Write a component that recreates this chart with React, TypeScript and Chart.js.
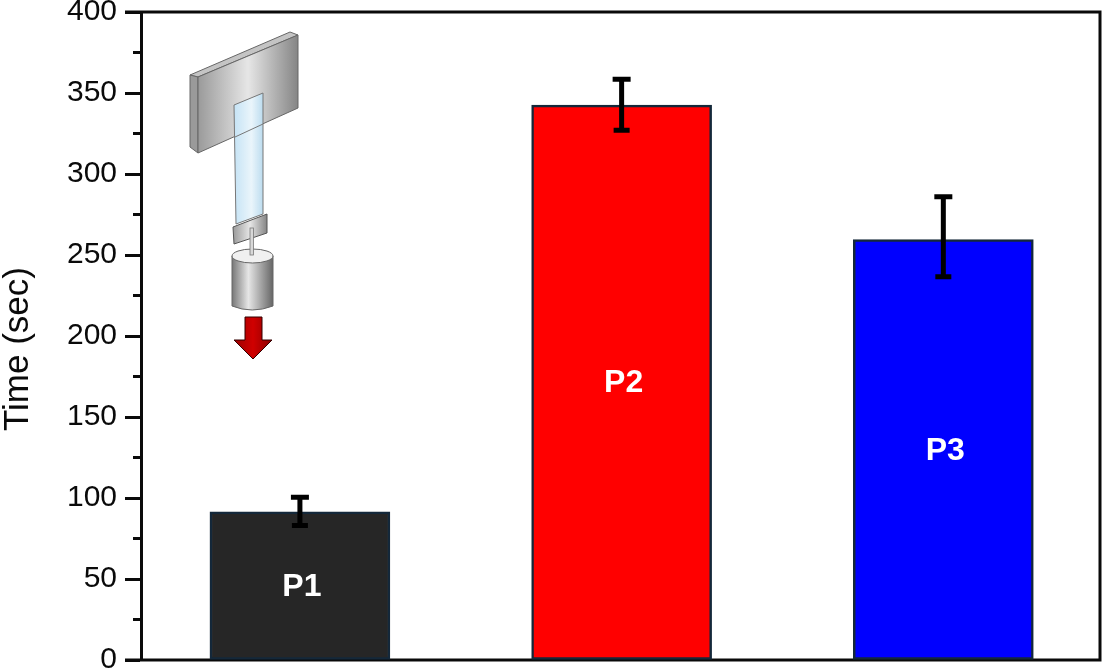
import React, { useEffect, useRef } from "react";
import { Chart, registerables } from "chart.js";

Chart.register(...registerables);

const categories = ["P1", "P2", "P3"];
const meanTime = [91.5, 342.5, 259.5];
const errorHigh = [100.5, 358.5, 286];
const errorLow = [83, 327, 236.5];
const barColors = ["#262626", "#ff0000", "#0000ff"];
const axisTitle = "Time (sec)";
const yMax = 400;
const yStep = 25;
const yLabelStep = 50;

const FONT = '"Liberation Sans", Arial, sans-serif';
const INK = "#0a0a0a";

const decorations = {
  id: "decorations",
  beforeDatasetsDraw(chart: any) {
    const { ctx, chartArea: a } = chart;
    ctx.save();
    ctx.strokeStyle = INK;
    ctx.lineWidth = 3;
    ctx.beginPath();
    ctx.moveTo(a.left - 16, a.top);
    ctx.lineTo(a.right, a.top);
    ctx.lineTo(a.right, a.bottom);
    ctx.lineTo(a.left - 16, a.bottom);
    ctx.stroke();
    // minor ticks
    const y = chart.scales.y;
    ctx.lineWidth = 3;
    y.ticks.forEach((t: any) => {
      if (t.value % yLabelStep !== 0) {
        const p = y.getPixelForValue(t.value);
        ctx.beginPath();
        ctx.moveTo(a.left - 8, p);
        ctx.lineTo(a.left, p);
        ctx.stroke();
      }
    });
    // axis title
    ctx.translate(18, 349);
    ctx.rotate(-Math.PI / 2);
    ctx.font = `35px ${FONT}`;
    ctx.fillStyle = INK;
    ctx.textAlign = "center";
    ctx.textBaseline = "middle";
    ctx.fillText(axisTitle, 0, 0);
    ctx.restore();
  },
  afterDatasetsDraw(chart: any) {
    const { ctx } = chart;
    const y = chart.scales.y;
    const bars = chart.getDatasetMeta(0).data;
    ctx.save();
    bars.forEach((bar: any, i: number) => {
      const hi = y.getPixelForValue(errorHigh[i]);
      const lo = y.getPixelForValue(errorLow[i]);
      const base = y.getPixelForValue(0);
      ctx.strokeStyle = "#000";
      ctx.lineWidth = 5;
      ctx.beginPath();
      ctx.moveTo(bar.x, hi);
      ctx.lineTo(bar.x, lo);
      ctx.moveTo(bar.x - 9, hi);
      ctx.lineTo(bar.x + 9, hi);
      ctx.moveTo(bar.x - 8, lo);
      ctx.lineTo(bar.x + 8, lo);
      ctx.stroke();
      ctx.fillStyle = "#fff";
      ctx.font = `bold 32px ${FONT}`;
      ctx.textAlign = "center";
      ctx.textBaseline = "middle";
      ctx.fillText(categories[i], bar.x + 2, (bar.y + base) / 2 + 1);
    });
    ctx.restore();
  },
};

function Inset() {
  return (
    <svg
      width={1102}
      height={670}
      style={{ position: "absolute", left: 0, top: 0, filter: "blur(0.5px)" }}
    >
      <defs>
        <linearGradient id="plate" x1="0" x2="1" y1="0" y2="0">
          <stop offset="0" stopColor="#9a9a9a" />
          <stop offset="0.5" stopColor="#e6e6e6" />
          <stop offset="1" stopColor="#858585" />
        </linearGradient>
        <linearGradient id="glass" x1="0" x2="1" y1="0" y2="0">
          <stop offset="0" stopColor="#c5e3f5" />
          <stop offset="0.6" stopColor="#eaf5fb" />
          <stop offset="1" stopColor="#bcdcef" />
        </linearGradient>
        <linearGradient id="cyl" x1="0" x2="1" y1="0" y2="0">
          <stop offset="0" stopColor="#777" />
          <stop offset="0.4" stopColor="#e6e6e6" />
          <stop offset="1" stopColor="#666" />
        </linearGradient>
        <linearGradient id="arrow" x1="0" x2="1" y1="0" y2="0">
          <stop offset="0" stopColor="#9c0000" />
          <stop offset="0.5" stopColor="#d00000" />
          <stop offset="1" stopColor="#8c0000" />
        </linearGradient>
      </defs>
      <polygon points="190,75 290,32 298,35 198,77" fill="#c4c4c4" stroke="#666" strokeWidth={1} />
      <polygon points="190,75 198,77 198,153 190,147" fill="#9a9a9a" stroke="#666" strokeWidth={1} />
      <polygon points="198,77 298,35 298,108 198,153" fill="url(#plate)" stroke="#666" strokeWidth={1} />
      <polygon points="234,105 263,93 263,214 236,224" fill="url(#glass)" stroke="#777" strokeWidth={1} />
      <line x1="235" y1="137" x2="263" y2="124" stroke="#777" strokeWidth={1} />
      <polygon points="233,227 267,214 267,233 234,244" fill="url(#plate)" stroke="#555" strokeWidth={1} />
      <path d="M232,256 L232,306 Q252,314 273,306 L273,256 Z" fill="url(#cyl)" stroke="#666" strokeWidth={1} />
      <ellipse cx="252.5" cy="256" rx="20.5" ry="7" fill="#f0f0f0" stroke="#666" strokeWidth={1} />
      <rect x="250" y="228" width="3.5" height="27" fill="#d8d8d8" stroke="#777" strokeWidth={0.8} />
      <polygon
        points="245,317 262,317 262,340 272,340 253,359 234,340 245,340"
        fill="url(#arrow)"
        stroke="#300"
        strokeWidth={1}
      />
    </svg>
  );
}

export default function App() {
  const ref = useRef<HTMLCanvasElement>(null);
  useEffect(() => {
    const chart = new Chart(ref.current!, {
      type: "bar",
      data: {
        datasets: [
          {
            label: axisTitle,
            data: categories.map((_, i) => ({ x: i + 1, y: meanTime[i] })) as any,
            backgroundColor: barColors,
            borderColor: "#14283a",
            borderWidth: 2.5,
            borderSkipped: false,
            barThickness: 180,
          },
        ],
      },
      options: {
        responsive: false,
        animation: false,
        layout: { autoPadding: false, padding: { left: 0, top: 12, right: 2, bottom: 10 } },
        plugins: { legend: { display: false }, tooltip: { enabled: false } },
        scales: {
          x: { type: "linear", display: false, offset: false, min: 0.506, max: 3.487 },
          y: {
            min: 0,
            max: yMax,
            afterFit(s: any) {
              s.width = 141;
              s.paddingTop = 0;
              s.paddingBottom = 0;
            },
            border: { display: true, color: INK, width: 3 },
            grid: {
              drawOnChartArea: false,
              tickLength: 16,
              tickWidth: 3,
              tickColor: (c: any) =>
                c.tick && c.tick.value % yLabelStep === 0 ? INK : "rgba(0,0,0,0)",
            },
            ticks: {
              stepSize: yStep,
              autoSkip: false,
              padding: 8,
              color: INK,
              font: { family: FONT, size: 30 },
              callback: (v: any) => (Number(v) % yLabelStep === 0 ? String(v) : ""),
            },
          },
        },
      },
      plugins: [decorations],
    } as any);
    return () => chart.destroy();
  }, []);
  return (
    <div style={{ position: "fixed", left: 0, top: 0, width: 1102, height: 670, background: "#fff" }}>
      <canvas
        ref={ref}
        width={1102}
        height={670}
        style={{ position: "absolute", left: 0, top: 0, filter: "blur(0.5px)" }}
      />
      <Inset />
    </div>
  );
}
